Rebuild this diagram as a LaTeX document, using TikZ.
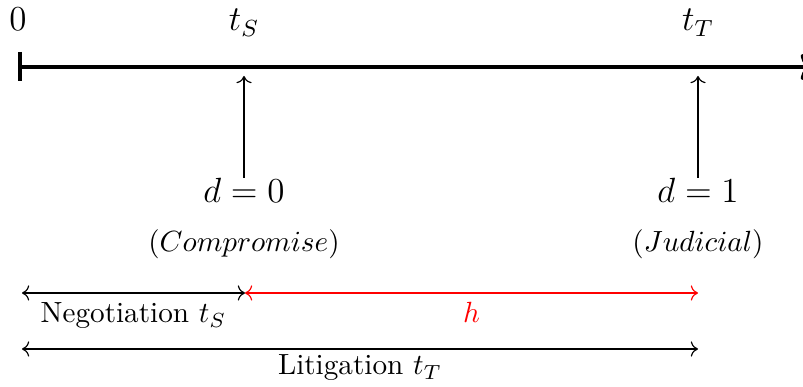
\documentclass[tikz,border=0pt]{standalone}
\usetikzlibrary{arrows.meta}
\begin{document}
\begin{tikzpicture}[x=0.3425pt,y=-0.3425pt,
  axisline/.style={line width=1.4pt,-{>[scale=0.9]}},
  tickbar/.style={line width=1.4pt},
  pointer/.style={line width=0.4pt,->},
  span/.style={line width=0.4pt,<->},
  toplabel/.style={anchor=base,inner sep=0pt,font=\large},
  dlabel/.style={anchor=base,inner sep=0pt,font=\large},
  kindlabel/.style={anchor=base,inner sep=0pt},
  spanlabel/.style={anchor=base,inner sep=0pt}]
\useasboundingbox (0,0) rectangle (803,387);
% axis
\coordinate (O) at (20,67);
\coordinate (E) at (813,67);
\coordinate (barT) at (20,52);
\coordinate (barB) at (20,81);
\draw[axisline] (O) -- (E);
\draw[tickbar] (barT) -- (barB);
% top labels
\node[toplabel] (zero) at (18,31) {$0$};
\node[toplabel] (tS) at (244,31) {$t_S$};
\node[toplabel] (tT) at (698,31) {$t_T$};
% d labels
\node[dlabel] (d0) at (244,203) {$d=0$};
\node[dlabel] (d1) at (698,203) {$d=1$};
\node[kindlabel] (comp) at (244,252) {$(Compromise)$};
\node[kindlabel] (jud) at (698,252) {$(Judicial)$};
\coordinate (pS) at (244,76);
\coordinate (pT) at (698,76);
\coordinate (qS) at (244,178);
\coordinate (qT) at (698,178);
\draw[pointer] (qS) -- (pS);
\draw[pointer] (qT) -- (pT);
% spans
\coordinate (a0) at (22,293);
\coordinate (aS) at (245,293);
\coordinate (aT) at (698,293);
\coordinate (b0) at (22,349);
\coordinate (bT) at (698,349);
\draw[span] (a0) -- (aS);
\draw[span,red] (aS) -- (aT);
\draw[span] (b0) -- (bT);
\node[spanlabel] (neg) at (133.5,323) {Negotiation $t_S$};
\node[spanlabel,text=red] (h) at (471.5,323) {$h$};
\node[spanlabel] (lit) at (360,375) {Litigation $t_T$};
\end{tikzpicture}
\end{document}
